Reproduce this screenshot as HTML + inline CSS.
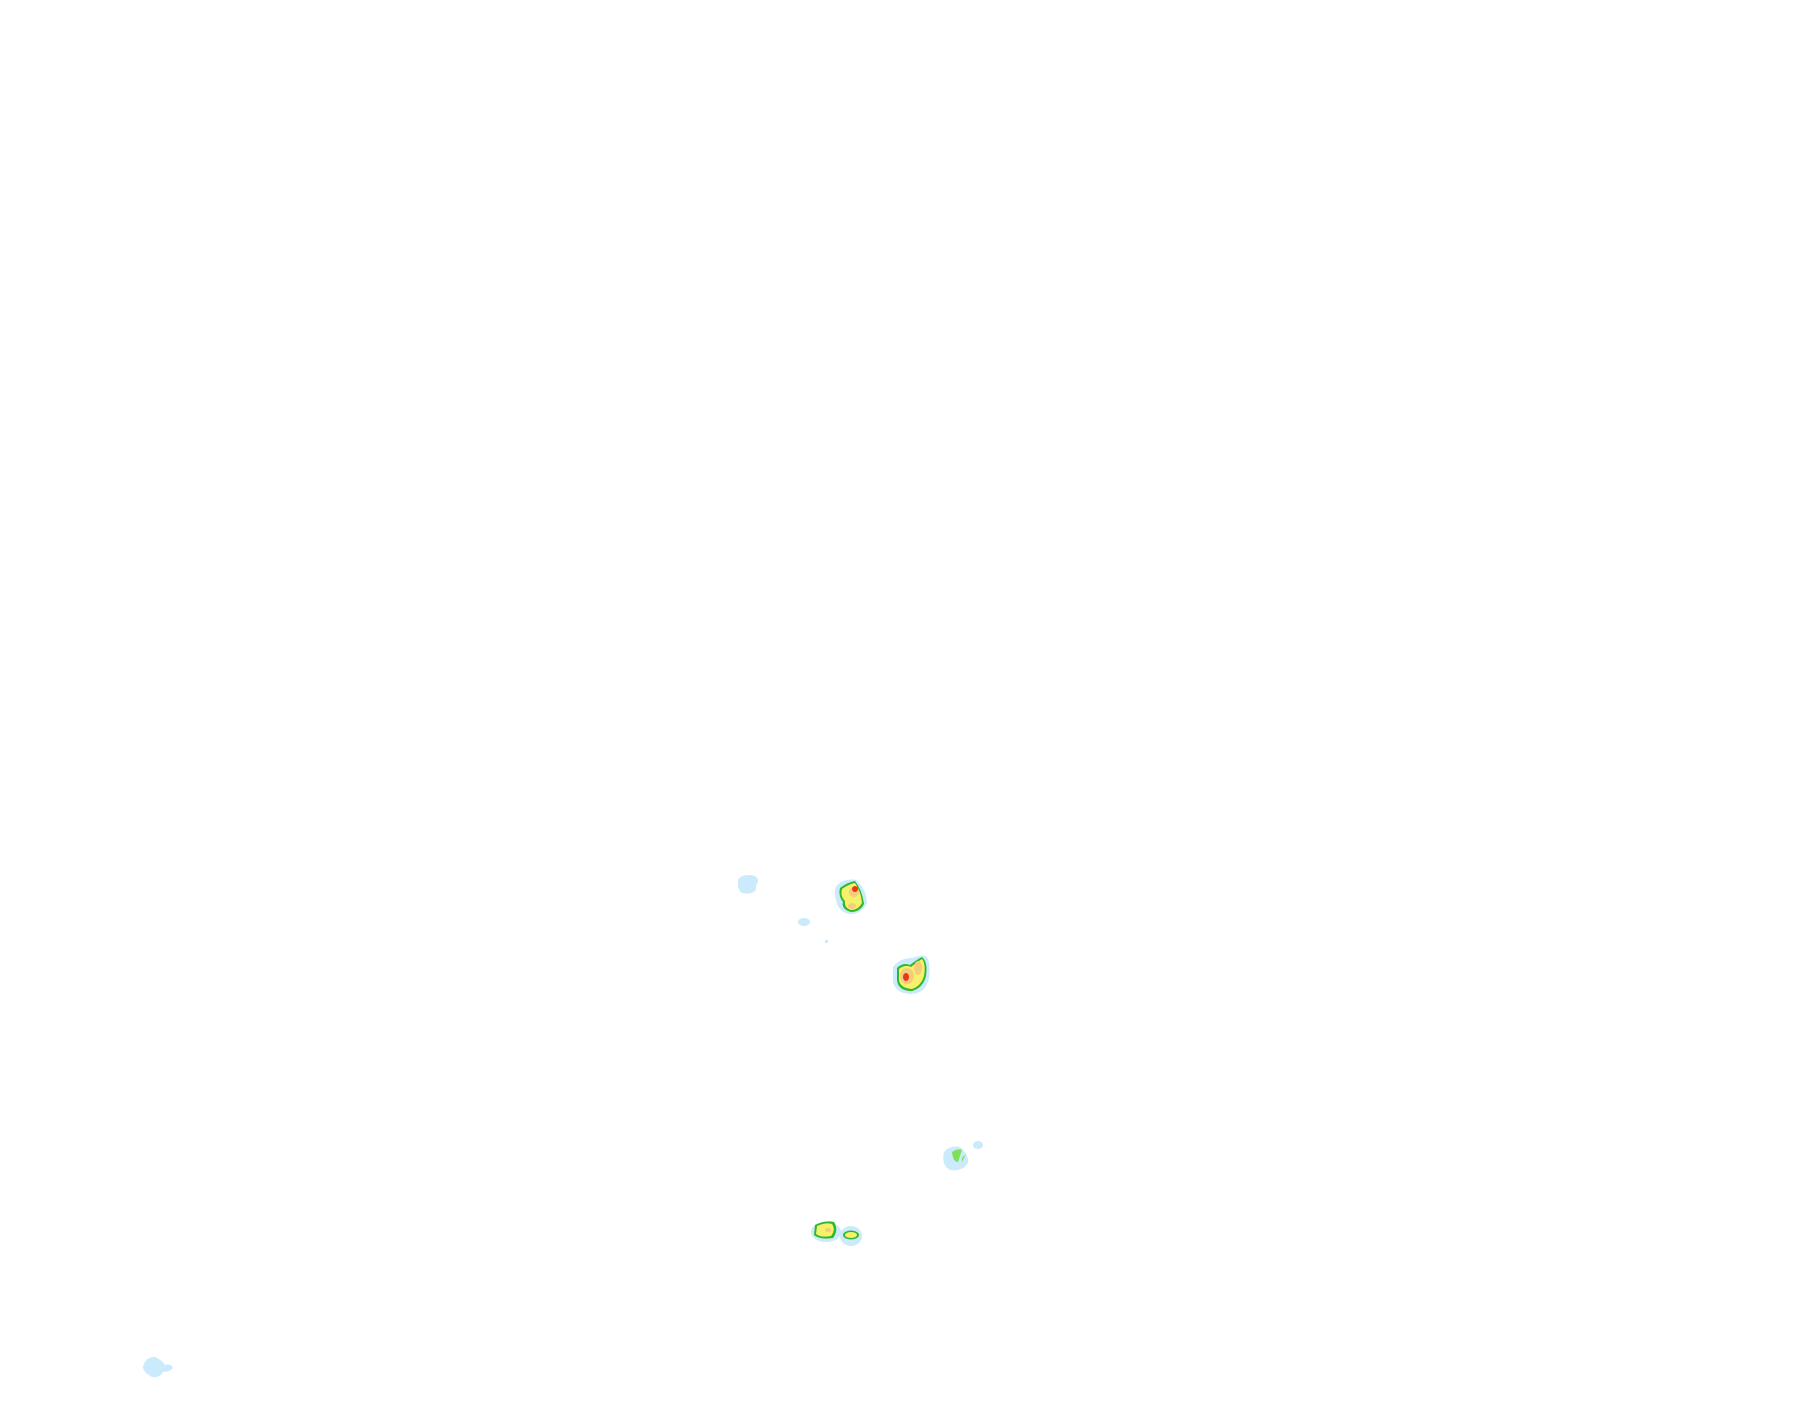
<!DOCTYPE html>
<html><head><style>html,body{margin:0;padding:0;background:#fff;}svg{display:block}</style></head>
<body>
<svg width="1815" height="1424" viewBox="0 0 1815 1424" xmlns="http://www.w3.org/2000/svg">
<rect width="1815" height="1424" fill="#fff"/>
<g fill="#cbeafc">
<path d="M738,880 Q740,875 750,875 Q758,875 758,882 Q755,886 756,890 Q752,895 742,893 Q737,890 738,880Z"/>
<ellipse cx="804" cy="922" rx="6" ry="4"/>
<rect x="825" y="940" width="3" height="3"/>
<path d="M837,885 Q845,878 856,880 Q866,888 867,903 Q862,914 850,914 Q838,912 836,900 Q833,892 837,885Z"/>
<path d="M893,967 Q900,958 912,958 Q920,955 926,956 Q931,962 929,978 Q926,993 912,994 Q896,994 893,982Z"/>
<path d="M944,1152 Q950,1145 960,1147 Q969,1155 968,1163 Q962,1172 950,1170 Q941,1165 944,1152Z"/>
<ellipse cx="978" cy="1145" rx="5" ry="4"/>
<ellipse cx="826" cy="1232" rx="15" ry="10"/>
<ellipse cx="851" cy="1236" rx="11" ry="10"/>
<path d="M143,1367 Q145,1357 155,1357 Q162,1360 165,1365 Q171,1363 173,1368 Q170,1372 163,1372 Q160,1378 152,1377 Q143,1372 143,1367Z"/>
</g>
<g fill="#2eb82e">
<path d="M840,888 Q848,882 855,881 Q862,890 864,904 Q860,912 851,912 Q841,909 843,902 Q838,896 840,888Z"/>
<path d="M897,968 Q903,962 910,965 Q916,960 922,957 Q928,962 926,976 Q923,988 912,991 Q898,991 897,980Z"/>
<path d="M815,1225 Q825,1220 834,1222 Q839,1230 833,1238 Q820,1240 814,1235Z"/>
<ellipse cx="851" cy="1235" rx="8" ry="4.5"/>
</g>
<g fill="#7de05a"><path d="M952,1152 Q958,1148 962,1150 L958,1162 Q953,1162 952,1152Z"/><path d="M962,1158 L966,1154 L962,1162Z"/></g>
<g fill="#f7f06a">
<path d="M842,889 Q849,884 855,883 Q861,892 862,903 Q858,910 851,910 Q844,908 845,901 Q840,896 842,889Z"/>
<path d="M899,969 Q905,964 911,967 Q917,962 922,959 Q926,964 924,976 Q921,986 912,989 Q900,988 899,980Z"/>
<path d="M817,1226 Q826,1222 832,1224 Q836,1230 831,1236 Q821,1238 816,1234Z"/>
<ellipse cx="851" cy="1235" rx="6" ry="3"/>
</g>
<g fill="#f5cc7a">
<ellipse cx="854" cy="892" rx="5" ry="5"/>
<ellipse cx="852" cy="906" rx="4" ry="3"/>
<ellipse cx="907" cy="976" rx="7" ry="8"/>
<ellipse cx="918" cy="968" rx="4" ry="7"/>
<ellipse cx="828" cy="1230" rx="3" ry="2"/>
</g>
<g fill="#e53a1e">
<ellipse cx="855" cy="889" rx="3" ry="3"/>
<ellipse cx="906" cy="977" rx="3" ry="4"/>
</g>
</svg>
</body></html>
